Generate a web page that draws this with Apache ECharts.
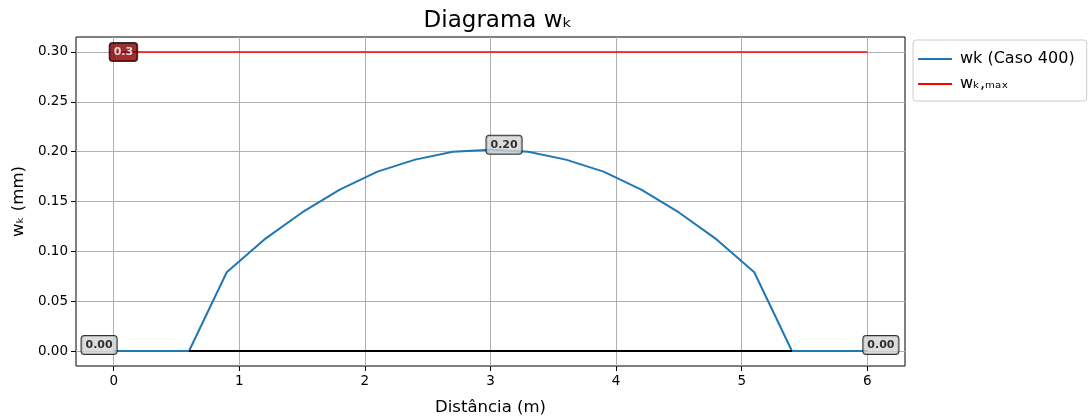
<!DOCTYPE html>
<html>
<head>
<meta charset="utf-8">
<script src="https://cdn.jsdelivr.net/npm/echarts@6/dist/echarts.min.js"></script>
<style>
  html, body { margin: 0; padding: 0; background: #fff; }
  #chart { width: 1089px; height: 418px; }
</style>
</head>
<body>
<div id="chart"></div>
<script>
// distancia (m) e abertura de fissura wk (mm)
var distancias = [0, 0.3, 0.6, 0.9, 1.2, 1.5, 1.8, 2.1, 2.4, 2.7, 3.0, 3.3, 3.6, 3.9, 4.2, 4.5, 4.8, 5.1, 5.4, 5.7, 6.0];
var wkValues = [0, 0, 0, 0.079, 0.112, 0.139, 0.162, 0.180, 0.192, 0.200, 0.202, 0.200, 0.192, 0.180, 0.162, 0.139, 0.112, 0.079, 0, 0, 0];
var wkMax = 0.3;
var zeroZone = [0.6, 5.4];
var xTicks = [0, 1, 2, 3, 4, 5, 6];
var yTicks = [0, 0.05, 0.10, 0.15, 0.20, 0.25, 0.30];

var font = 'DejaVu Sans';

var mainData = [];
for (var i = 0; i < distancias.length; i++) {
    mainData.push([distancias[i], wkValues[i]]);
}

// pontos anotados: inicio, pico, fim
var peakIdx = 0;
for (var i = 0; i < wkValues.length; i++) {
    if (wkValues[i] > wkValues[peakIdx]) peakIdx = i;
}
var lastIdx = distancias.length - 1;
var boxLabel = {
    show: true,
    fontFamily: font,
    fontWeight: 'bold',
    fontSize: 11,
    color: '#000',
    backgroundColor: '#d3d3d3',
    borderColor: '#000',
    borderWidth: 1,
    borderRadius: 3,
    padding: [4, 4, 3, 4],
    formatter: function (p) { return p.value[1].toFixed(2); }
};
var notes = [
    {value: [distancias[0], wkValues[0]], label: Object.assign({}, boxLabel, {position: 'left', offset: [8, -6]})},
    {value: [distancias[peakIdx], wkValues[peakIdx]], label: Object.assign({}, boxLabel, {position: 'right', offset: [-9, -5]})},
    {value: [distancias[lastIdx], wkValues[lastIdx]], label: Object.assign({}, boxLabel, {position: 'right', offset: [-9, -6]})}
];

var myChart = echarts.init(document.getElementById('chart'));
var option = {
    animation: false,
    title: {
        text: 'Diagrama wₖ',
        left: 493,
        textAlign: 'center',
        top: 5,
        textStyle: {
            fontFamily: font,
            fontSize: 23,
            fontWeight: 'normal',
            color: '#000'
        }
    },
    legend: {
        left: 913,
        top: 40,
        orient: 'vertical',
        backgroundColor: '#fff',
        borderColor: '#cccccc',
        borderWidth: 1,
        borderRadius: 3,
        padding: [11, 12, 9, 5],
        itemGap: 9,
        itemWidth: 34,
        itemHeight: 2,
        icon: 'rect',
        data: ['wk (Caso 400)', 'wₖ,ₘₐₓ'],
        textStyle: {
            fontFamily: font,
            fontSize: 16,
            color: '#000',
            padding: [0, 0, 0, 3]
        }
    },
    grid: {
        left: 76, right: 184, top: 37, bottom: 52,
        outerBoundsMode: 'none',
        containLabel: false,
        show: true, borderColor: '#000', borderWidth: 1
    },
    xAxis: {
        type: 'value',
        min: -0.3, max: 6.3,
        name: 'Distância (m)',
        nameLocation: 'middle',
        nameGap: 33,
        nameTextStyle: {fontFamily: font, fontSize: 16.5, color: '#000'},
        axisLine: {show: false, onZero: false},
        axisTick: {show: true, inside: false, length: 5, lineStyle: {color: '#000'}, customValues: xTicks},
        axisLabel: {fontFamily: font, fontSize: 13.5, color: '#000', margin: 8, customValues: xTicks,
            formatter: function (v) { return String(v); }},
        splitLine: {show: true, lineStyle: {color: '#b0b0b0', width: 1}}
    },
    yAxis: {
        type: 'value',
        min: -0.015, max: 0.315,
        name: 'wₖ (mm)',
        nameLocation: 'middle',
        nameGap: 49,
        nameRotate: 90,
        nameTextStyle: {fontFamily: font, fontSize: 16.5, color: '#000'},
        axisLine: {show: false, onZero: false},
        axisTick: {show: true, inside: false, length: 5, lineStyle: {color: '#000'}, customValues: yTicks},
        axisLabel: {fontFamily: font, fontSize: 13.5, color: '#000', margin: 8, customValues: yTicks,
            formatter: function (v) { return v.toFixed(2); }},
        splitLine: {show: true, lineStyle: {color: '#b0b0b0', width: 1}}
    },
    series: [
        {
            name: 'wk (Caso 400)',
            type: 'line',
            data: mainData,
            symbol: 'none',
            color: '#1f77b4',
            lineStyle: {width: 2, color: '#1f77b4'},
            z: 3
        },
        {
            name: 'wₖ,ₘₐₓ',
            type: 'line',
            data: [[distancias[0], wkMax], [distancias[lastIdx], wkMax]],
            symbol: 'none',
            color: '#ff0000',
            lineStyle: {width: 1.6, color: '#ff0000'},
            z: 3
        },
        {
            name: 'zero',
            type: 'line',
            data: [[zeroZone[0], 0], [zeroZone[1], 0]],
            symbol: 'none',
            lineStyle: {width: 2, color: '#000'},
            z: 4
        },
        {
            name: 'notas',
            type: 'scatter',
            symbolSize: 0,
            data: notes,
            z: 10
        },
        {
            name: 'notaMax',
            type: 'scatter',
            symbolSize: 0,
            data: [{value: [distancias[0], wkMax]}],
            label: {
                show: true,
                position: 'right',
                offset: [-9, 0],
                fontFamily: font,
                fontWeight: 'bold',
                fontSize: 11,
                color: '#fff',
                backgroundColor: '#800000',
                borderColor: '#000',
                borderWidth: 1,
                borderRadius: 3,
                padding: [4, 4, 3, 4],
                formatter: function (p) { return String(p.value[1]); }
            },
            z: 10
        }
    ]
};
myChart.setOption(option);
</script>
</body>
</html>
